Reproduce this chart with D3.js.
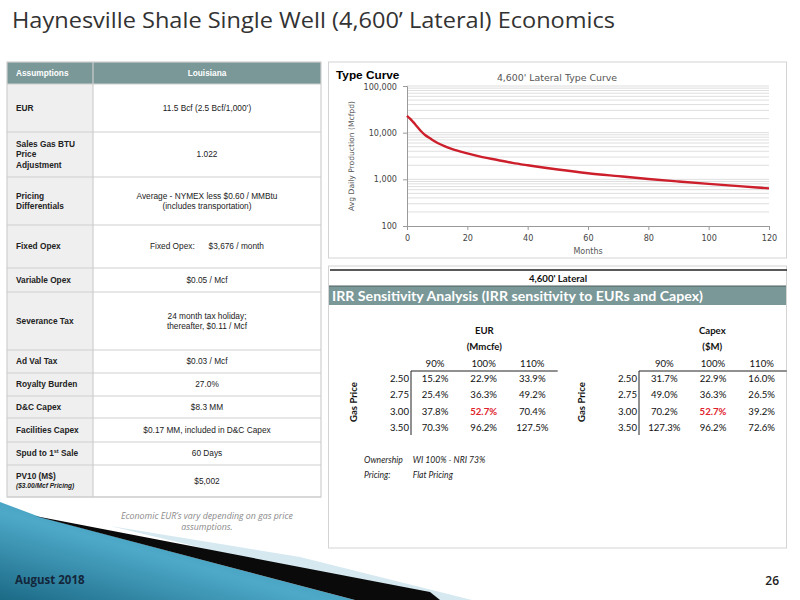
<!DOCTYPE html>
<html>
<head>
<meta charset="utf-8">
<script src="https://cdn.jsdelivr.net/npm/d3@7"></script>
<style>
  body { margin: 0; background: #fff; }
  svg { display: block; }
</style>
</head>
<body>
<div id="slide"></div>
<script>
// assumptions table
const assumptionLabels = [
  "EUR", "Sales Gas BTU\nPrice\nAdjustment", "Pricing\nDifferentials", "Fixed Opex",
  "Variable Opex", "Severance Tax", "Ad Val Tax", "Royalty Burden", "D&C Capex",
  "Facilities Capex", "Spud to 1st Sale", "PV10 (M$)\n($3.00/Mcf Pricing)"
];
const assumptionValues = [
  "11.5 Bcf (2.5 Bcf/1,000’)", "1.022",
  "Average - NYMEX less $0.60 / MMBtu\n(includes transportation)",
  "Fixed Opex:      $3,676 / month", "$0.05 / Mcf",
  "24 month tax holiday;\nthereafter, $0.11 / Mcf", "$0.03 / Mcf", "27.0%", "$8.3 MM",
  "$0.17 MM, included in D&C Capex", "60 Days", "$5,002"
];

// type curve (Mcfpd by month)
const curveMonths = [0, 1, 2, 3, 4, 5, 6, 8, 10, 12, 15, 20, 25, 30, 35, 40, 50, 60, 70, 80, 90, 100, 110, 120];
const curveRate = [23000, 20000, 17000, 14300, 12000, 10200, 8900, 7300, 6100, 5300, 4450, 3600, 3000, 2600, 2250, 2000, 1620, 1350, 1170, 1020, 900, 800, 715, 640];
const rateTicks = [100, 1000, 10000, 100000];
const monthTicks = [0, 20, 40, 60, 80, 100, 120];

// IRR sensitivity
const gasPrices = ["2.50", "2.75", "3.00", "3.50"];
const pctSteps = ["90%", "100%", "110%"];
const irrByEur = [
  [15.2, 22.9, 33.9],
  [25.4, 36.3, 49.2],
  [37.8, 52.7, 70.4],
  [70.3, 96.2, 127.5]
];
const irrByCapex = [
  [31.7, 22.9, 16.0],
  [49.0, 36.3, 26.5],
  [70.2, 52.7, 39.2],
  [127.3, 96.2, 72.6]
];
const baseCase = [2, 1]; // 3.00 / 100%
const ownershipNotes = [["Ownership", "WI 100% - NRI 73%"], ["Pricing:", "Flat Pricing"]];

const teal = "#7a9898";
const gridGrey = "#cfcfcf";

const svg = d3.select("#slide").append("svg")
  .attr("width", 800)
  .attr("height", 600);

// ---- bottom-left decoration
const grad = svg.append("defs").append("linearGradient")
  .attr("id", "swoosh").attr("x1", "0").attr("y1", "1").attr("x2", "1").attr("y2", "0");
grad.append("stop").attr("offset", "0%").attr("stop-color", "#1b6a86");
grad.append("stop").attr("offset", "45%").attr("stop-color", "#4ea9c9");
grad.append("stop").attr("offset", "100%").attr("stop-color", "#237f9f");

const deco = svg.append("g");
deco.append("polygon").attr("points", "110,526 300,557 472,600 420,600").attr("fill", "#d6e9f1");
deco.append("polygon").attr("points", "0,502 40,517 355,600 0,600").attr("fill", "url(#swoosh)");
deco.append("polygon").attr("points", "35,516 430,592 440,600 355,600").attr("fill", "#0a0a0a");

svg.append("text")
  .attr("x", 15).attr("y", 584)
  .attr("font-family", "Open Sans").attr("font-weight", 700).attr("font-size", 11.5)
  .attr("fill", "#14263a")
  .text("August 2018");

svg.append("text")
  .attr("x", 779).attr("y", 585).attr("text-anchor", "end")
  .attr("font-family", "Open Sans").attr("font-weight", 600).attr("font-size", 12)
  .attr("fill", "#222")
  .text("26");

// ---- title
svg.append("text")
  .attr("x", 12).attr("y", 28)
  .attr("font-family", "Open Sans").attr("font-size", 22)
  .attr("fill", "#333")
  .attr("textLength", 603).attr("lengthAdjust", "spacingAndGlyphs")
  .text("Haynesville Shale Single Well (4,600’ Lateral) Economics");

// ---- assumptions table
const tbl = { x0: 7, x1: 93, x2: 321, top: 62, head: 84 };
const rowEdges = [84, 132, 177, 225, 268, 292, 350, 373, 396, 418, 442, 465, 497];
const lineH = 10.5;
const tg = svg.append("g").attr("font-family", "Liberation Sans").attr("font-size", 8.3).attr("fill", "#222");

tg.append("rect").attr("x", tbl.x0).attr("y", tbl.top).attr("width", tbl.x2 - tbl.x0).attr("height", tbl.head - tbl.top).attr("fill", teal);
tg.append("text").attr("x", 16).attr("y", 73).attr("dy", "0.35em").attr("fill", "#fff").attr("font-weight", 700).text("Assumptions");
tg.append("text").attr("x", (tbl.x1 + tbl.x2) / 2).attr("y", 73).attr("dy", "0.35em").attr("text-anchor", "middle").attr("fill", "#fff").attr("font-weight", 700).text("Louisiana");

const rows = tg.selectAll("g.row")
  .data(assumptionLabels.map((d, i) => ({ label: d, value: assumptionValues[i], y0: rowEdges[i], y1: rowEdges[i + 1], i })))
  .join("g").attr("class", "row");

rows.append("rect")
  .attr("x", tbl.x0).attr("y", d => d.y0).attr("width", tbl.x1 - tbl.x0).attr("height", d => d.y1 - d.y0)
  .attr("fill", "#efefef");
rows.append("rect")
  .attr("x", tbl.x1).attr("y", d => d.y0).attr("width", tbl.x2 - tbl.x1).attr("height", d => d.y1 - d.y0)
  .attr("fill", "#fff");

function multiline(sel, lines, x, cy, anchor) {
  lines.forEach((ln, k) => {
    sel.append("text")
      .attr("x", x)
      .attr("y", cy + (k - (lines.length - 1) / 2) * lineH)
      .attr("dy", "0.35em")
      .attr("text-anchor", anchor)
      .style("white-space", "pre")
      .text(ln);
  });
}

rows.each(function (d) {
  const g = d3.select(this);
  const cy = (d.y0 + d.y1) / 2;
  const lab = g.append("g").attr("font-weight", 700);
  if (d.label.startsWith("Spud")) {
    const t = lab.append("text").attr("x", 16).attr("y", cy).attr("dy", "0.35em");
    t.append("tspan").text("Spud to 1");
    t.append("tspan").attr("font-size", 5.5).attr("dy", "-3").text("st");
    t.append("tspan").attr("dy", "3").text(" Sale");
  } else if (d.label.startsWith("PV10")) {
    const parts = d.label.split("\n");
    lab.append("text").attr("x", 16).attr("y", cy - 5).attr("dy", "0.35em").text(parts[0]);
    lab.append("text").attr("x", 16).attr("y", cy + 5).attr("dy", "0.35em")
      .attr("font-style", "italic").attr("font-size", 6.6).text(parts[1]);
  } else {
    multiline(lab, d.label.split("\n"), 16, cy, "start");
  }
  multiline(g, d.value.split("\n"), (tbl.x1 + tbl.x2) / 2, cy, "middle");
});

// grid lines
tg.selectAll("line.h")
  .data(rowEdges)
  .join("line")
  .attr("x1", tbl.x0).attr("x2", tbl.x2)
  .attr("y1", d => d).attr("y2", d => d)
  .attr("stroke", gridGrey).attr("stroke-width", 1.2);
tg.append("line").attr("x1", tbl.x1).attr("x2", tbl.x1).attr("y1", tbl.top).attr("y2", rowEdges[rowEdges.length - 1]).attr("stroke", gridGrey).attr("stroke-width", 1.2);
tg.append("rect").attr("x", tbl.x0).attr("y", tbl.top).attr("width", tbl.x2 - tbl.x0).attr("height", rowEdges[rowEdges.length - 1] - tbl.top)
  .attr("fill", "none").attr("stroke", gridGrey).attr("stroke-width", 1.2);

const note = svg.append("g").attr("font-family", "Open Sans").attr("font-style", "italic").attr("font-size", 8.8).attr("fill", "#8a8a8a").attr("text-anchor", "middle");
note.append("text").attr("x", 207).attr("y", 519).text("Economic EUR’s vary depending on gas price");
note.append("text").attr("x", 207).attr("y", 530).text("assumptions.");

// ---- type curve panel
svg.append("rect").attr("x", 328.5).attr("y", 62).attr("width", 458).attr("height", 196)
  .attr("fill", "#fff").attr("stroke", "#d4d4d4");

const x = d3.scaleLinear().domain([0, 120]).range([407, 769]);
const y = d3.scaleLog().domain([100, 100000]).range([226, 86]);

const gridVals = [];
for (let dec = 100; dec < 100000; dec *= 10) for (let k = 2; k <= 10; k++) gridVals.push(dec * k);

const chart = svg.append("g");
chart.append("g").selectAll("line")
  .data(gridVals)
  .join("line")
  .attr("x1", x(0)).attr("x2", x(120))
  .attr("y1", d => y(d)).attr("y2", d => y(d))
  .attr("stroke", "#d6d6d6").attr("stroke-width", 0.8);

const yAxis = chart.append("g")
  .attr("transform", `translate(${x(0)},0)`)
  .call(d3.axisLeft(y).tickValues(rateTicks).tickFormat(d3.format(",")).tickSize(4).tickPadding(6));
const xAxis = chart.append("g")
  .attr("transform", `translate(0,${y(100)})`)
  .call(d3.axisBottom(x).tickValues(monthTicks).tickSize(4).tickPadding(5));
[yAxis, xAxis].forEach(a => {
  a.select(".domain").attr("stroke", "#9a9a9a");
  a.selectAll(".tick line").attr("stroke", "#9a9a9a");
  a.selectAll("text").attr("font-family", "DejaVu Sans").attr("font-size", 8.1).attr("fill", "#444");
});
// keep the top tick label clear of the panel heading
yAxis.selectAll(".tick text").filter(d => d === 100000).attr("dy", "0.45em");

chart.append("path")
  .datum(curveMonths.map((m, i) => [m, curveRate[i]]))
  .attr("fill", "none")
  .attr("stroke", "#cc1f2b")
  .attr("stroke-width", 2.4)
  .attr("d", d3.line().x(d => x(d[0])).y(d => y(d[1])).curve(d3.curveMonotoneX));

chart.append("text").attr("x", 336).attr("y", 78.5)
  .attr("font-family", "Liberation Sans").attr("font-weight", 700).attr("font-size", 11.8).attr("fill", "#000")
  .text("Type Curve");
chart.append("text").attr("x", 557).attr("y", 78).attr("dy", "0.35em").attr("text-anchor", "middle")
  .attr("font-family", "DejaVu Sans").attr("font-size", 9.4).attr("fill", "#555")
  .text("4,600' Lateral Type Curve");
chart.append("text").attr("x", 588).attr("y", 251).attr("dy", "0.35em").attr("text-anchor", "middle")
  .attr("font-family", "DejaVu Sans").attr("font-size", 8).attr("fill", "#555")
  .text("Months");
chart.append("text")
  .attr("transform", "translate(351,156) rotate(-90)")
  .attr("dy", "0.35em").attr("text-anchor", "middle")
  .attr("font-family", "DejaVu Sans").attr("font-size", 7.6).attr("fill", "#555")
  .text("Avg Daily Production (Mcfpd)");

// ---- IRR panel
const irr = svg.append("g").attr("font-family", "Lato").attr("fill", "#111");
irr.append("rect").attr("x", 328.5).attr("y", 266).attr("width", 458).attr("height", 282)
  .attr("fill", "#fff").attr("stroke", "#d4d4d4");
irr.append("line").attr("x1", 330).attr("x2", 787).attr("y1", 270).attr("y2", 270).attr("stroke", "#222").attr("stroke-width", 1.6);
irr.append("text").attr("x", 558).attr("y", 279).attr("dy", "0.35em").attr("text-anchor", "middle")
  .attr("font-weight", 700).attr("font-size", 9.6).text("4,600' Lateral");
irr.append("rect").attr("x", 329).attr("y", 286).attr("width", 457).attr("height", 19).attr("fill", teal);
irr.append("line").attr("x1", 329).attr("x2", 786).attr("y1", 286).attr("y2", 286).attr("stroke", "#4d5d5d").attr("stroke-width", 1);
irr.append("text").attr("x", 332).attr("y", 296).attr("dy", "0.35em")
  .attr("font-weight", 700).attr("font-size", 13.5).attr("fill", "#fff")
  .attr("textLength", 371).attr("lengthAdjust", "spacingAndGlyphs")
  .text("IRR Sensitivity Analysis (IRR sensitivity to EURs and Capex)");

function sensitivity(opts) {
  const g = irr.append("g").attr("font-size", 9.6);
  const col = d3.scalePoint().domain(pctSteps).range(opts.cols);
  const row = d3.scalePoint().domain(gasPrices).range([379, 427.3]);
  opts.head.forEach((h, k) => {
    g.append("text").attr("x", opts.headX).attr("y", 330.7 + k * 16).attr("dy", "0.35em")
      .attr("text-anchor", "middle").attr("font-weight", 700).text(h);
  });
  g.selectAll("text.pct").data(pctSteps).join("text").attr("class", "pct")
    .attr("x", d => col(d)).attr("y", 363.3).attr("dy", "0.35em").attr("text-anchor", "middle").text(d => d);
  g.selectAll("text.gp").data(gasPrices).join("text").attr("class", "gp")
    .attr("x", opts.vline - 2).attr("y", d => row(d)).attr("dy", "0.35em").attr("text-anchor", "end").text(d => d);
  g.append("line").attr("x1", opts.vline).attr("x2", opts.hEnd).attr("y1", 371).attr("y2", 371).attr("stroke", "#222").attr("stroke-width", 1);
  g.append("line").attr("x1", opts.vline).attr("x2", opts.vline).attr("y1", 371).attr("y2", 435).attr("stroke", "#222").attr("stroke-width", 1);
  opts.data.forEach((r, i) => {
    r.forEach((v, j) => {
      const isBase = i === baseCase[0] && j === baseCase[1];
      g.append("text")
        .attr("x", col(pctSteps[j])).attr("y", row(gasPrices[i])).attr("dy", "0.35em")
        .attr("text-anchor", "middle")
        .attr("fill", isBase ? "#e0202a" : "#111")
        .attr("font-weight", isBase ? 700 : 400)
        .text(v.toFixed(1) + "%");
    });
  });
  g.append("text")
    .attr("transform", `translate(${opts.gasX},402) rotate(-90)`)
    .attr("dy", "0.35em").attr("text-anchor", "middle").attr("font-weight", 700)
    .text("Gas Price");
}

sensitivity({ data: irrByEur, cols: [435, 532.3], headX: 484.3, head: ["EUR", "(Mmcfe)"], vline: 411, hEnd: 557.7, gasX: 353.3 });
sensitivity({ data: irrByCapex, cols: [664.3, 761.7], headX: 712.3, head: ["Capex", "($M)"], vline: 639, hEnd: 786.7, gasX: 581.7 });

const own = irr.append("g").attr("font-style", "italic").attr("font-size", 8.6).attr("fill", "#222");
ownershipNotes.forEach((n, k) => {
  own.append("text").attr("x", 364).attr("y", 459.5 + k * 15.5).attr("dy", "0.35em").text(n[0]);
  own.append("text").attr("x", 412.7).attr("y", 459.5 + k * 15.5).attr("dy", "0.35em").text(n[1]);
});
</script>
</body>
</html>
